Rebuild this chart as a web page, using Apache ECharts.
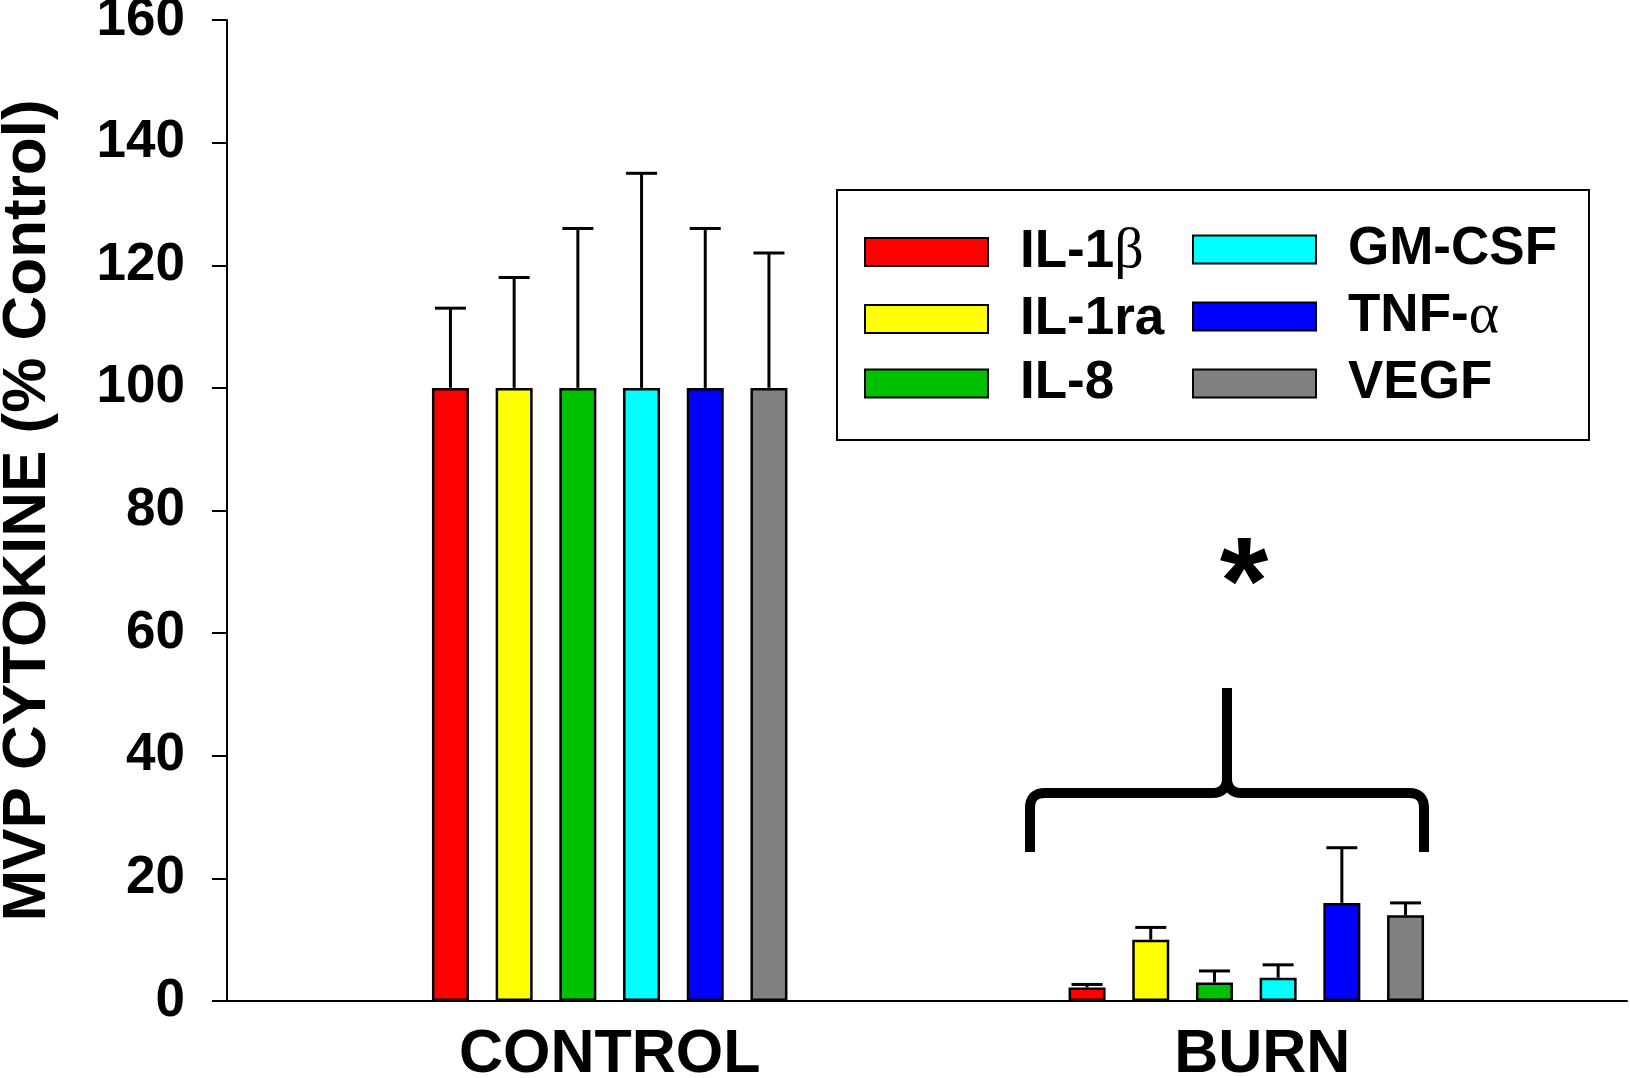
<!DOCTYPE html>
<html>
<head>
<meta charset="utf-8">
<script src="https://cdn.jsdelivr.net/npm/echarts@6/dist/echarts.min.js"></script>
<style>
  html, body { margin: 0; padding: 0; background: #fff; }
  #chart { width: 1630px; height: 1078px; }
</style>
</head>
<body>
<div id="chart"></div>
<script>
const categories = ["CONTROL", "BURN"];
const cytokines = ["IL-1β", "IL-1ra", "IL-8", "GM-CSF", "TNF-α", "VEGF"];
const colors = ["#ff0000", "#ffff00", "#00c000", "#00ffff", "#0000ff", "#808080"];
const meanControl = [100, 100, 100, 100, 100, 100];
const upperControl = [113, 118, 126, 135, 126, 122];
const meanBurn = [2.2, 10, 3, 3.8, 16, 14];
const upperBurn = [2.7, 12, 4.9, 5.9, 25, 16];
const yMin = 0;
const yMax = 160;
const yStep = 20;

const FONT = "'Liberation Sans', Arial, sans-serif";
const BAR_W = 37;
const BAR_GAP = 0.7216;
const STEP = BAR_W * (1 + BAR_GAP);

const chart = echarts.init(document.getElementById("chart"));

const barSeries = cytokines.map((name, k) => ({
  name: name,
  type: "bar",
  xAxisIndex: 1,
  yAxisIndex: 1,
  barWidth: BAR_W,
  barGap: BAR_GAP * 100 + "%",
  data: [meanControl[k], meanBurn[k]],
  itemStyle: { color: colors[k], borderColor: "#000", borderWidth: 2.5 },
  silent: true
}));

// [category index, series index, mean, upper]
const errData = [];
cytokines.forEach((name, k) => {
  errData.push([0, k, meanControl[k], upperControl[k]]);
  errData.push([1, k, meanBurn[k], upperBurn[k]]);
});

const errSeries = {
  type: "custom",
  xAxisIndex: 1,
  yAxisIndex: 1,
  data: errData,
  encode: { x: 0, y: [2, 3] },
  z: 5,
  silent: true,
  renderItem: function (params, api) {
    const k = api.value(1);
    const base = api.coord([api.value(0), api.value(2)]);
    const top = api.coord([api.value(0), api.value(3)]);
    const x = base[0] + (k - 2.5) * STEP;
    const style = { stroke: "#000", lineWidth: 3 };
    return {
      type: "group",
      children: [
        { type: "line", shape: { x1: x, y1: base[1], x2: x, y2: top[1] }, style: style },
        { type: "line", shape: { x1: x - 15.5, y1: top[1], x2: x + 15.5, y2: top[1] }, style: style }
      ]
    };
  }
};

function legendFormat(name) {
  if (name.endsWith("β") || name.endsWith("α")) {
    return "{a|" + name.slice(0, -1) + "}{g|" + name.slice(-1) + "}";
  }
  return "{a|" + name + "}";
}

const legendText = {
  padding: [0, 0, 0, 27],
  rich: {
    a: { fontFamily: FONT, fontWeight: "bold", fontSize: 53, color: "#000" },
    g: { fontFamily: "'Liberation Serif', serif", fontWeight: "normal", fontSize: 58, color: "#000" }
  }
};

const legendBase = {
  orient: "vertical",
  top: 223,
  padding: 0,
  itemWidth: 123,
  itemHeight: 28,
  itemGap: 11.5,
  icon: "rect",
  selectedMode: false,
  itemStyle: { borderColor: "#000", borderWidth: 2 },
  formatter: legendFormat,
  textStyle: legendText
};

// curly brace over the burn group
const braceStyle = { fill: "none", stroke: "#000", lineWidth: 10 };
function seg(x1, y1, x2, y2) {
  return { type: "line", silent: true, shape: { x1: x1, y1: y1, x2: x2, y2: y2 }, style: braceStyle };
}
function curve(x1, y1, cx, cy, x2, y2) {
  return { type: "bezierCurve", silent: true, shape: { x1: x1, y1: y1, cpx1: cx, cpy1: cy, x2: x2, y2: y2 }, style: braceStyle };
}
const brace = [
  seg(1030, 852, 1030, 808),
  curve(1030, 808, 1030, 793, 1045, 793),
  seg(1045, 793, 1212, 793),
  curve(1212, 793, 1227, 793, 1227, 778),
  seg(1227, 778, 1227, 688),
  curve(1227, 778, 1227, 793, 1242, 793),
  seg(1242, 793, 1409, 793),
  curve(1409, 793, 1424, 793, 1424, 808),
  seg(1424, 808, 1424, 852)
];

const option = {
  animation: false,
  textStyle: { fontFamily: FONT },
  legend: [
    Object.assign({}, legendBase, { left: 864, data: cytokines.slice(0, 3) }),
    Object.assign({}, legendBase, { left: 1192, data: cytokines.slice(3) })
  ],
  grid: [
    { left: 227, right: 3, top: 20, bottom: 77, outerBoundsMode: "none", containLabel: false },
    { left: 291.4, right: 65.4, top: 20, bottom: 77, outerBoundsMode: "none", containLabel: false }
  ],
  xAxis: [
    {
      type: "value",
      gridIndex: 0,
      min: 0,
      max: 1,
      axisLine: { lineStyle: { color: "#000", width: 2 } },
      axisTick: { show: false },
      axisLabel: { show: false },
      splitLine: { show: false }
    },
    {
      type: "category",
      gridIndex: 1,
      data: categories,
      axisLine: { show: false },
      axisTick: { show: false },
      axisLabel: {
        margin: 24,
        formatter: (v) => (v === "BURN" ? "{b|" + v + "}" : "{c|" + v + "}"),
        rich: {
          b: { fontFamily: FONT, fontWeight: "bold", fontSize: 61, color: "#000", padding: [0, 0, 0, 32] },
          c: { fontFamily: FONT, fontWeight: "bold", fontSize: 61, color: "#000" }
        }
      }
    }
  ],
  yAxis: [
    {
      type: "value",
      gridIndex: 0,
      min: yMin,
      max: yMax,
      interval: yStep,
      name: "MVP CYTOKINE (% Control)",
      nameLocation: "middle",
      nameGap: 168,
      nameTextStyle: { fontFamily: FONT, fontWeight: "bold", fontSize: 62, color: "#000" },
      axisLine: { show: true, lineStyle: { color: "#000", width: 2 } },
      axisTick: { show: true, length: 15, lineStyle: { color: "#000", width: 2 } },
      axisLabel: { margin: 42, fontFamily: FONT, fontWeight: "bold", fontSize: 53, color: "#000" },
      splitLine: { show: false }
    },
    {
      type: "value",
      gridIndex: 1,
      min: yMin,
      max: yMax,
      interval: yStep,
      show: false,
      splitLine: { show: false }
    }
  ],
  graphic: [
    {
      type: "rect",
      shape: { x: 837, y: 190, width: 752, height: 250 },
      style: { fill: "none", stroke: "#000", lineWidth: 2 },
      silent: true
    },
    {
      type: "text",
      x: 1244,
      y: 590,
      style: {
        text: "*",
        fontFamily: FONT,
        fontWeight: "bold",
        fontSize: 125,
        fill: "#000",
        align: "center",
        verticalAlign: "middle"
      },
      silent: true
    }
  ].concat(brace),
  series: barSeries.concat([errSeries])
};

chart.setOption(option);
</script>
</body>
</html>
